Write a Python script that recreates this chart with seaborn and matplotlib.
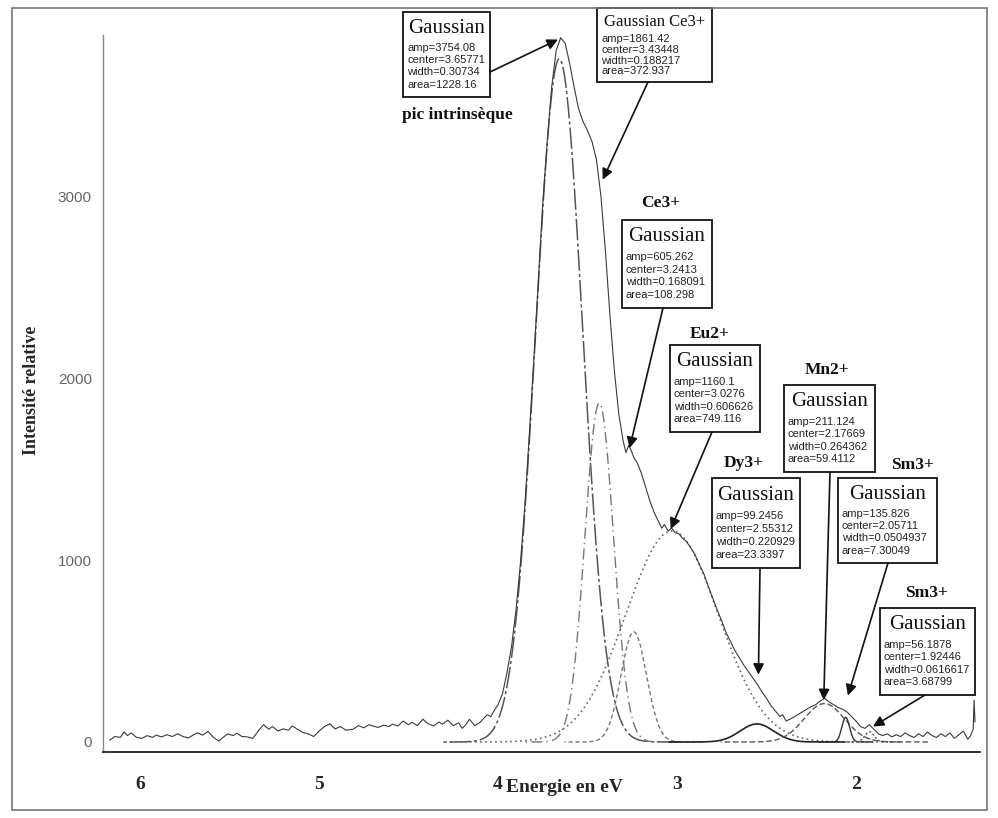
import numpy as np
import matplotlib
matplotlib.use('Agg')
import matplotlib.pyplot as plt
import seaborn as sns
from matplotlib.patches import Rectangle
from matplotlib.ticker import MultipleLocator

raw_energy = [6.17, 6.14, 6.11, 6.09, 6.07, 6.05, 6.02, 5.99, 5.96, 5.93, 5.91, 5.88, 5.85, 5.82,
              5.79, 5.76, 5.73, 5.70, 5.68, 5.65, 5.62, 5.59, 5.56, 5.53, 5.51, 5.48, 5.46, 5.43,
              5.40, 5.37, 5.34, 5.31, 5.28, 5.26, 5.23, 5.20, 5.17, 5.15, 5.12, 5.09, 5.06, 5.03,
              5.00, 4.97, 4.94, 4.91, 4.88, 4.85, 4.81, 4.78, 4.75, 4.72, 4.70, 4.67, 4.64, 4.61,
              4.59, 4.56, 4.53, 4.50, 4.48, 4.45, 4.42, 4.39, 4.36, 4.33, 4.31, 4.28, 4.25, 4.22,
              4.20, 4.18, 4.16, 4.13, 4.10, 4.08, 4.06, 4.04, 4.02, 4.00, 3.975, 3.95, 3.925, 3.90,
              3.875, 3.85, 3.825, 3.80, 3.775, 3.75, 3.725, 3.70, 3.675, 3.65, 3.625, 3.60, 3.575,
              3.55, 3.525, 3.50, 3.475, 3.45, 3.425, 3.40, 3.375, 3.35, 3.325, 3.30, 3.285, 3.27,
              3.255, 3.24, 3.225, 3.20, 3.175, 3.15, 3.125, 3.10, 3.085, 3.07, 3.05, 3.03, 3.01,
              2.99, 2.97, 2.95, 2.925, 2.90, 2.875, 2.85, 2.825, 2.80, 2.775, 2.75, 2.725, 2.70,
              2.675, 2.65, 2.625, 2.60, 2.575, 2.55, 2.525, 2.50, 2.475, 2.45, 2.425, 2.41, 2.39,
              2.37, 2.35, 2.325, 2.30, 2.275, 2.25, 2.225, 2.20, 2.175, 2.15, 2.125, 2.10, 2.075,
              2.05, 2.025, 2.00, 1.975, 1.95, 1.925, 1.90, 1.875, 1.85, 1.825, 1.80, 1.775, 1.75,
              1.725, 1.70, 1.675, 1.65, 1.625, 1.60, 1.575, 1.55, 1.525, 1.50, 1.475, 1.45, 1.425,
              1.40, 1.375, 1.36, 1.345, 1.34, 1.335]
raw_intensity = [10, 30, 25, 55, 35, 50, 25, 20, 35, 25, 38, 28, 40, 30,
                 45, 30, 22, 40, 50, 38, 58, 25, 5, 30, 45, 35, 48, 30,
                 28, 20, 60, 95, 70, 85, 60, 72, 65, 88, 70, 52, 45, 30,
                 60, 85, 100, 72, 85, 65, 70, 90, 78, 95, 88, 80, 92, 85,
                 98, 88, 115, 95, 108, 90, 125, 100, 88, 110, 98, 120, 90, 105,
                 75, 95, 125, 90, 108, 130, 150, 140, 175, 205, 265, 380, 520, 720,
                 980, 1300, 1690, 2100, 2530, 2960, 3300, 3600, 3800, 3870, 3840, 3730, 3600,
                 3480, 3410, 3360, 3300, 3200, 3000, 2700, 2350, 2040, 1800, 1650, 1590, 1630,
                 1600, 1560, 1540, 1480, 1400, 1320, 1255, 1205, 1175, 1195, 1160, 1175, 1150,
                 1145, 1120, 1105, 1070, 1030, 975, 925, 855, 790, 725, 665, 600, 550,
                 500, 460, 420, 385, 350, 315, 275, 240, 200, 170, 140, 150, 115,
                 125, 135, 150, 165, 180, 195, 205, 225, 240, 220, 205, 190, 180,
                 165, 140, 115, 85, 75, 95, 70, 45, 35, 45, 28, 40, 30,
                 50, 35, 25, 45, 30, 55, 35, 25, 45, 30, 50, 20, 40,
                 60, 15, 35, 70, 230, 110]

# Fitted Gaussian components, parameters as printed in the boxes
comp_amp = [3754.08, 1861.42, 605.262, 1160.1, 99.2456, 211.124, 135.826, 56.1878]
comp_center = [3.65771, 3.43448, 3.2413, 3.0276, 2.55312, 2.17669, 2.05711, 1.92446]
comp_width = [0.30734, 0.188217, 0.168091, 0.606626, 0.220929, 0.264362, 0.0504937, 0.0616617]
comp_area = [1228.16, 372.937, 108.298, 749.116, 23.3397, 59.4112, 7.30049, 3.68799]
comp_ion = ['pic intrinsèque', '', 'Ce3+', 'Eu2+', 'Dy3+', 'Mn2+', 'Sm3+', 'Sm3+']

x_ticks = [6, 5.5, 5, 4.5, 4, 3.5, 3, 2.5, 2, 1.5]
x_tick_labels = ['6', '', '5', '', '4', '', '3', '', '2', '']
y_ticks = [0, 1000, 2000, 3000]

W, H = 998, 818
sns.set_style('white')
fig = plt.figure(figsize=(W / 100, H / 100), dpi=100)
ax = fig.add_axes([103 / W, 1 - 752 / H, (980 - 103) / W, (752 - 35) / H])

# component line styles
styles = [(0, (14, 2, 2, 2)), (0, (8, 3, 1, 3)), (0, (3, 2)), (0, (1, 2)),
          '-', (0, (4, 2)), '-', (0, (1.5, 1.5))]
colors = ['#555', '#777', '#777', '#666', '#222', '#555', '#333', '#555']
widths = [1.1, 1.0, 1.0, 1.2, 1.2, 1.0, 1.0, 1.0]

for i in range(len(comp_amp)):
    c, a, w = comp_center[i], comp_amp[i], comp_width[i]
    half = 2 * w + 0.05
    e = np.linspace(c - half, c + half, 400)
    g = a * np.exp(-4 * np.log(2) * (e - c) ** 2 / w ** 2)
    sns.lineplot(x=e, y=g, ax=ax, color=colors[i], lw=widths[i], linestyle=styles[i],
                 estimator=None, sort=False)

sns.lineplot(x=raw_energy, y=raw_intensity, ax=ax, color='#3a3a3a', lw=0.8,
             estimator=None, sort=False)

ax.set_xlim(6.207, 1.307)
ax.set_ylim(-55, 3885)
ax.set_xlabel('')
ax.set_ylabel('')

for s in ['top', 'right']:
    ax.spines[s].set_visible(False)
ax.spines['left'].set_color('#888')
ax.spines['left'].set_linewidth(1.0)
ax.spines['bottom'].set_color('#222')
ax.spines['bottom'].set_linewidth(1.3)

ax.set_xticks(x_ticks)
ax.set_xticklabels(x_tick_labels)
ax.xaxis.set_minor_locator(MultipleLocator(0.1))
ax.tick_params(axis='x', which='major', direction='out', length=11, width=1.1,
               color='#222', pad=6, labelsize=14)
ax.tick_params(axis='x', which='minor', direction='out', length=6, width=1.0, color='#222')
for lbl in ax.get_xticklabels():
    lbl.set_fontfamily('Liberation Serif')
    lbl.set_fontweight('bold')

ax.set_yticks(y_ticks)
ax.set_yticklabels([str(v) for v in y_ticks])
ax.tick_params(axis='y', which='major', direction='out', length=7, width=1.0,
               color='#777', labelcolor='#666', labelsize=11, pad=1)
for lbl in ax.get_yticklabels():
    lbl.set_fontfamily('Liberation Sans')


def fx(px):
    return px / W


def fy(py):
    return 1 - py / H


fig.text(fx(565), fy(788), 'Energie en eV', family='Liberation Serif', weight='bold',
         fontsize=14, ha='center', va='center')
fig.text(fx(32), fy(390), 'Intensité relative', family='Liberation Serif', weight='bold',
         fontsize=13, ha='center', va='center', rotation=90)

# annotation boxes: rectangle (px), ion label position, arrow start (px), arrow target (data)
box_rect = [(403, 12, 490, 97), (597, 8, 712, 82), (622, 220, 712, 308), (670, 345, 760, 432),
            (712, 478, 800, 568), (784, 385, 875, 472), (838, 478, 937, 563), (880, 608, 975, 695)]
label_pos = [(457, 115), None, (661, 203), (710, 334), (744, 463), (827, 370), (913, 465), (927, 593)]
arrow_from = [(490, 72), (648, 82), (663, 308), (712, 432), (760, 568), (830, 472), (888, 563), (925, 695)]
arrow_to = [(3.665, 3860), (3.415, 3090), (3.265, 1615), (3.035, 1170), (2.545, 370),
            (2.18, 230), (2.045, 255), (1.905, 85)]

for i in range(len(box_rect)):
    x0, y0, x1, y1 = box_rect[i]
    h = y1 - y0
    fig.add_artist(Rectangle((fx(x0), fy(y1)), (x1 - x0) / W, h / H, transform=fig.transFigure,
                             fill=False, ec='#111', lw=1.3))
    title = 'Gaussian Ce3+' if i == 1 else 'Gaussian'
    fig.text(fx((x0 + x1) / 2), fy(y0 + 0.19 * h), title, family='Liberation Serif',
             fontsize=12 if i == 1 else 15, ha='center', va='center', color='#111')
    lines = ['amp=' + str(comp_amp[i]), 'center=' + str(comp_center[i]),
             'width=' + str(comp_width[i]), 'area=' + str(comp_area[i])]
    for k, t in enumerate(lines):
        fig.text(fx(x0 + 4), fy(y0 + (0.42 + 0.145 * k) * h), t, family='Liberation Sans',
                 fontsize=8, ha='left', va='center', color='#222')
    if label_pos[i] is not None:
        fig.text(fx(label_pos[i][0]), fy(label_pos[i][1]), comp_ion[i], family='Liberation Serif',
                 weight='bold', fontsize=12.5, ha='center', va='center', color='#111')
    ax.annotate('', xy=arrow_to[i], xycoords='data',
                xytext=(fx(arrow_from[i][0]), fy(arrow_from[i][1])), textcoords='figure fraction',
                arrowprops=dict(arrowstyle='-|>', color='#111', lw=1.2, mutation_scale=16,
                                shrinkA=0, shrinkB=0))

# outer frame of the scanned figure
fig.add_artist(Rectangle((fx(12), fy(810)), (987 - 12) / W, (810 - 8) / H,
                         transform=fig.transFigure, fill=False, ec='#777', lw=1.2))

fig.savefig('out.png', dpi=100)
